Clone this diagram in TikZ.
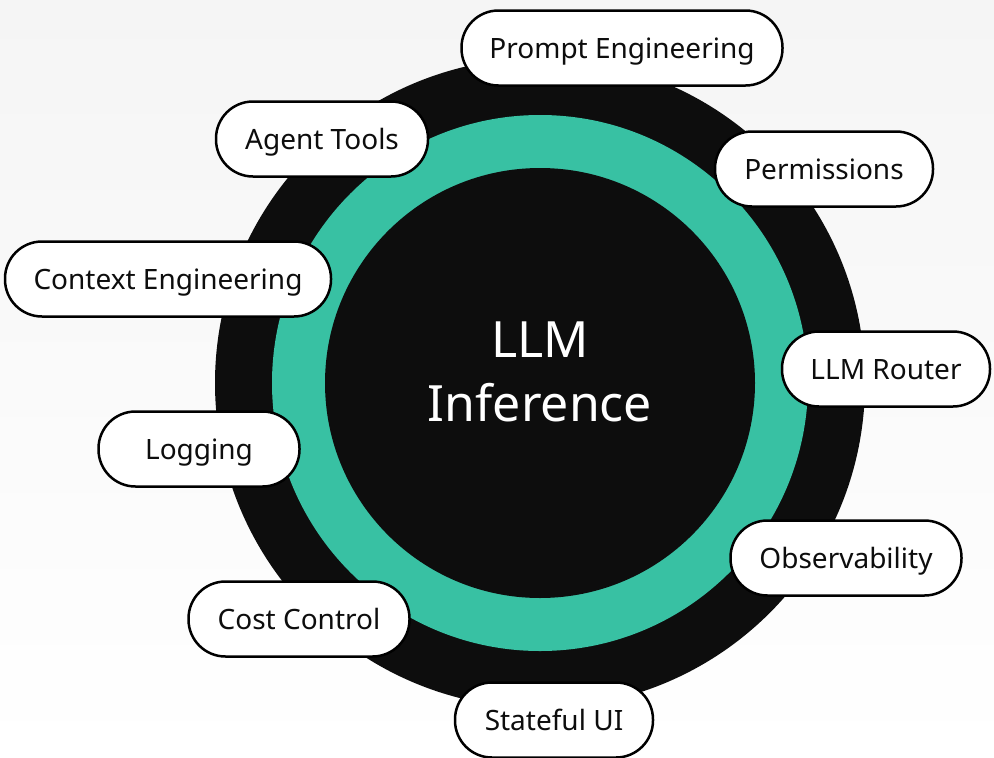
\documentclass[tikz,border=0pt]{standalone}
\usepackage{fontspec}
\setmainfont{Noto Sans}
\definecolor{ink}{HTML}{0D0D0D}
\definecolor{teal}{HTML}{38C1A3}
\definecolor{bgtop}{HTML}{F5F5F5}
\begin{document}
\begin{tikzpicture}[x=1pt,y=-1pt,
  pill/.style={draw=black, line width=2.5pt, fill=white, rounded corners=37pt,
    minimum height=75pt, inner xsep=0pt, inner ysep=0pt, text height=20pt, text depth=0pt,
    font=\fontsize{28}{32}\selectfont, text=ink}]
\fill[top color=bgtop, bottom color=white] (0,0) rectangle (994,758);
\useasboundingbox (0,0) rectangle (994,758);
\fill[ink] (540,383) circle (325);
\fill[teal] (540,383) circle (268);
\fill[ink] (540,383) circle (215);
\node[text=white, align=center, font=\fontsize{50}{64}\selectfont] (core) at (540,372) {LLM\\Inference};
\node[pill, minimum width=321pt] (pe) at (622,48) {Prompt Engineering};
\node[pill, minimum width=212pt] (at) at (322,139) {Agent Tools};
\node[pill, minimum width=218pt] (pm) at (824,169) {Permissions};
\node[pill, minimum width=326pt] (ce) at (168,279) {Context Engineering};
\node[pill, minimum width=208pt] (lr) at (886,369) {LLM Router};
\node[pill, minimum width=201pt] (lg) at (199,449) {Logging};
\node[pill, minimum width=231pt] (ob) at (846,558) {Observability};
\node[pill, minimum width=221pt] (cc) at (299,619) {Cost Control};
\node[pill, minimum width=198pt] (su) at (554,720) {Stateful UI};
\end{tikzpicture}
\end{document}
